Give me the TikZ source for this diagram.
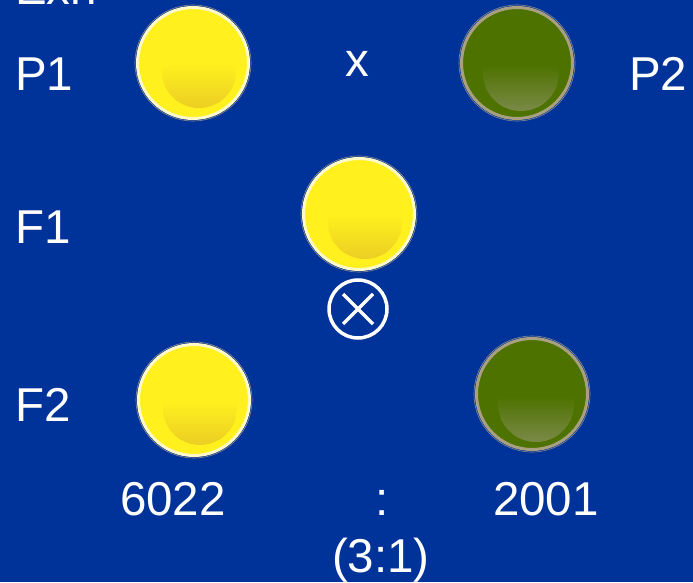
\documentclass[tikz,border=0pt]{standalone}
\usepackage{fontspec}
\setmainfont{Liberation Sans}
\usetikzlibrary{calc}
\definecolor{bg}{RGB}{0,51,153}
\definecolor{ybase}{RGB}{255,240,30}
\definecolor{ydark}{RGB}{236,206,36}
\definecolor{yrim}{RGB}{255,250,200}
\definecolor{gbase}{RGB}{78,114,0}
\definecolor{glight}{RGB}{122,138,72}
\definecolor{grim}{RGB}{168,160,128}
% #1 dx, #2 dy, #3 radius, #4 base colour, #5 target colour
\newcommand\glowdisc[5]{%
  \begin{scope}
  \coordinate (gc) at ($(path picture bounding box.center)+(#1,#2)$);
  \clip (gc) circle (#3);
  \foreach \i in {0,...,40} {%
    \pgfmathsetmacro\pmix{100*\i/40}%
    \fill[#5!\pmix!#4] ($(gc)+(-#3,{0.2*#3-\i*0.03*#3})$) rectangle ($(gc)+(#3,{0.2*#3-(\i+1)*0.03*#3-0.6})$);}
  \end{scope}}
\tikzset{
  lbl/.style={text=white, inner sep=0pt, outer sep=0pt, font=\fontsize{47.5}{52}\selectfont},
  yball/.style={circle, minimum size=111pt, inner sep=0pt, draw=yrim, line width=3pt, fill=ybase,
    path picture={\glowdisc{6}{-8}{37}{ybase}{ydark}}},
  gball/.style={circle, minimum size=111pt, inner sep=0pt, draw=grim, line width=3pt, fill=gbase,
    path picture={\glowdisc{4}{-10}{38}{gbase}{glight}}},
  ring/.style={circle, minimum size=116pt, inner sep=0pt, draw=black!45, line width=0.6pt},
  cross/.style={circle, minimum size=58pt, inner sep=0pt, draw=white, line width=3.5pt,
    path picture={\draw[white, line width=3.5pt]
      ($(path picture bounding box.center)+(-15,-15)$) -- ($(path picture bounding box.center)+(15,15)$)
      ($(path picture bounding box.center)+(-15,15)$) -- ($(path picture bounding box.center)+(15,-15)$);}}
}
\begin{document}
\begin{tikzpicture}[x=1pt,y=1pt]
\fill[bg] (0,0) rectangle (693,582);
\useasboundingbox (0,0) rectangle (693,582);
% labels
\node[lbl, anchor=base west] (exp) at (15,577) {Exn};
\node[lbl, anchor=base west] (p1l) at (15,491) {P1};
\node[lbl, anchor=base] (xl) at (357,505) {x};
\node[lbl, anchor=base west] (p2l) at (629,491) {P2};
\node[lbl, anchor=base west] (f1l) at (15,339) {F1};
\node[lbl, anchor=base west] (f2l) at (15,161) {F2};
\node[lbl, anchor=base west] (n1) at (120,67) {6022};
\node[lbl, anchor=base] (colon) at (382,67) {:};
\node[lbl, anchor=base west] (n2) at (493,67) {2001};
\node[lbl, anchor=base west] (ratio) at (332,10) {(3:1)};
% balls
\node[ring] (p1r) at (193,519) {};
\node[yball] (p1) at (193,519) {};
\node[ring] (p2r) at (517,519) {};
\node[gball] (p2) at (517,519) {};
\node[ring] (f1r) at (359,368) {};
\node[yball] (f1) at (359,368) {};
\node[cross] (x) at (358,273) {};
\node[ring] (f2yr) at (194,182) {};
\node[yball] (f2y) at (194,182) {};
\node[ring] (f2gr) at (532,188) {};
\node[gball] (f2g) at (532,188) {};
\end{tikzpicture}
\end{document}
